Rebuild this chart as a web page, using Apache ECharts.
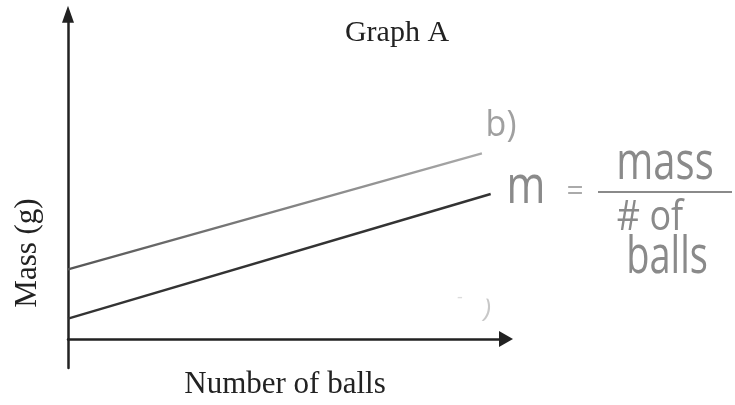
<!DOCTYPE html>
<html>
<head>
<meta charset="utf-8">
<script src="https://cdn.jsdelivr.net/npm/echarts@6/dist/echarts.min.js"></script>
<style>
  html, body { margin: 0; padding: 0; background: #fff; }
  #chart { width: 735px; height: 405px; }
</style>
</head>
<body>
<div id="chart"></div>
<script>
// Graph A: mass against number of balls, two straight lines
const upperBalls = [0, 9.45];
const upperMass = [2.4, 6.4];
const lowerBalls = [0, 9.65];
const lowerMass = [0.7, 5.0];

const titleText = 'Graph A';
const xName = 'Number of balls';
const yName = 'Mass (g)';

const pencil = '#8a8a8a';
const ink = '#222';

function pairs(xs, ys) {
  return xs.map((x, i) => [x, ys[i]]);
}

const chart = echarts.init(document.getElementById('chart'));

chart.setOption({
  animation: false,
  backgroundColor: '#fff',
  grid: { left: 68, right: 229, top: 14.2, bottom: 37, outerBoundsMode: 'none', containLabel: false },
  xAxis: {
    type: 'value', min: 0, max: 10,
    axisLine: {
      show: true, onZero: true,
      symbol: ['none', 'triangle'], symbolSize: [16, 14],
      lineStyle: { color: ink, width: 2.5 }
    },
    axisTick: { show: false }, axisLabel: { show: false }, splitLine: { show: false }
  },
  yAxis: {
    type: 'value', min: -1, max: 11.2,
    axisLine: {
      show: true, onZero: false,
      symbol: ['none', 'triangle'], symbolSize: [12, 17],
      lineStyle: { color: ink, width: 2.5 }
    },
    axisTick: { show: false }, axisLabel: { show: false }, splitLine: { show: false }
  },
  series: [
    {
      type: 'line', data: pairs(upperBalls, upperMass), symbol: 'none',
      lineStyle: {
        width: 2.2,
        color: new echarts.graphic.LinearGradient(0, 0, 1, 0, [
          { offset: 0, color: '#555' },
          { offset: 1, color: '#aaa' }
        ])
      }
    },
    {
      type: 'line', data: pairs(lowerBalls, lowerMass), symbol: 'none',
      lineStyle: { width: 2.4, color: '#333' }
    }
  ],
  graphic: [
    {
      type: 'text', x: 397, y: 33,
      style: { text: titleText, font: '30px "Liberation Serif"', fill: ink, align: 'center', verticalAlign: 'middle' }
    },
    {
      type: 'text', x: 285, y: 385,
      style: { text: xName, font: '31px "Liberation Serif"', fill: ink, align: 'center', verticalAlign: 'middle' }
    },
    {
      type: 'text', x: 28, y: 253, rotation: Math.PI / 2,
      style: { text: yName, font: '31px "Liberation Serif"', fill: ink, align: 'center', verticalAlign: 'middle' }
    },
    // pencil notes
    {
      type: 'text', x: 501, y: 125, scaleY: 1.1,
      style: { text: 'b)', font: '34px "Open Sans"', fill: '#a0a0a0', align: 'center', verticalAlign: 'middle' }
    },
    {
      type: 'text', x: 526, y: 188, scaleY: 1.25,
      style: { text: 'm', font: '42px "Open Sans"', fill: pencil, align: 'center', verticalAlign: 'middle' }
    },
    {
      type: 'text', x: 575, y: 191,
      style: { text: '=', font: '30px "Open Sans"', fill: '#aaa', align: 'center', verticalAlign: 'middle' }
    },
    {
      type: 'text', x: 665, y: 164, scaleY: 1.3,
      style: { text: 'mass', font: '40px "Open Sans"', fill: pencil, align: 'center', verticalAlign: 'middle' }
    },
    {
      type: 'line', shape: { x1: 598, y1: 192, x2: 732, y2: 192 },
      style: { stroke: pencil, lineWidth: 2 }
    },
    {
      type: 'text', x: 650, y: 218, scaleY: 1.15,
      style: { text: '# of', font: '36px "Open Sans"', fill: pencil, align: 'center', verticalAlign: 'middle' }
    },
    {
      type: 'text', x: 667, y: 258, scaleY: 1.35,
      style: { text: 'balls', font: '38px "Open Sans"', fill: pencil, align: 'center', verticalAlign: 'middle' }
    },
    {
      type: 'text', x: 487, y: 310, rotation: -0.2,
      style: { text: ')', font: '26px "Open Sans"', fill: '#c8c8c8', align: 'center', verticalAlign: 'middle' }
    },
    {
      type: 'text', x: 460, y: 298,
      style: { text: '-', font: '18px "Open Sans"', fill: '#dcdcdc', align: 'center', verticalAlign: 'middle' }
    }
  ]
});
</script>
</body>
</html>
